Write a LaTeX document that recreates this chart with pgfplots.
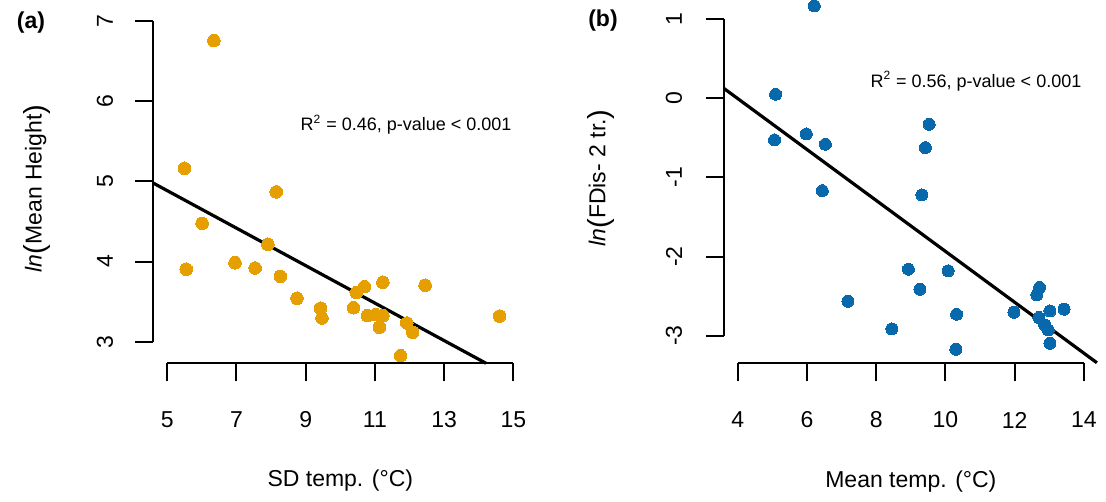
\documentclass[border=0pt]{standalone}
\usepackage{pgfplots}
\pgfplotsset{compat=1.18}
\usepackage{fontspec}
\setmainfont{Liberation Sans}
\definecolor{orng}{HTML}{E69F00}
\definecolor{blu}{HTML}{0868AC}
\newcommand{\tfs}{\fontsize{11.5}{12}\selectfont}
\newcommand{\bigp}[1]{\raisebox{-1.6pt}{\fontsize{14.5}{15}\selectfont #1}}

\pgfplotstableread{
x y
6.35 6.76
5.50 5.165
8.15 4.87
6.01 4.478
5.55 3.904
6.96 3.986
7.54 3.92
7.91 4.216
8.27 3.816
8.75 3.542
9.43 3.417
9.47 3.296
10.38 3.424
10.46 3.612
10.70 3.687
11.23 3.742
12.45 3.704
10.78 3.325
11.02 3.337
11.23 3.325
11.13 3.18
11.92 3.233
12.09 3.117
11.74 2.825
14.60 3.32
}\dataA

\pgfplotstableread{
x y
6.21 1.164
5.09 0.049
5.06 -0.528
5.98 -0.452
6.53 -0.582
6.44 -1.168
9.53 -0.330
9.42 -0.625
9.32 -1.222
7.18 -2.565
8.45 -2.914
8.93 -2.16
9.26 -2.413
10.08 -2.18
10.32 -2.729
10.30 -3.171
11.98 -2.703
12.72 -2.39
12.64 -2.485
13.02 -2.687
13.43 -2.665
12.70 -2.77
12.87 -2.864
12.97 -2.927
13.02 -3.095
}\dataB

\pgfplotsset{
  rstyle/.style={
    anchor=south west, scale only axis, clip=false,
    axis lines*=left, axis line style={draw=none},
    tick align=outside, major tick length=9pt,
    tick style={black, line width=1pt},
    minor tick num=0,
    xticklabel style={anchor=center, font=\tfs},
    yticklabel style={rotate=90, anchor=center, font=\tfs},
    xticklabel shift=19.35pt,
  },
}

\begin{document}
\begin{tikzpicture}
\useasboundingbox (0pt,0pt) rectangle (553pt,-251pt);

% ---------- panel (a)
\begin{axis}[rstyle,
  at={(76.65pt,-181.65pt)}, width=187pt, height=175pt,
  xmin=4.6, xmax=15.4, ymin=2.73, ymax=7.1,
  xtick={5,7,9,11,13,15}, xticklabels={5,7,9,11,13,15},
  ytick={3,4,5,6,7}, yticklabels={3,4,5,6,7},
  yticklabel shift=15.15pt,
]
\addplot[only marks, mark=*, mark size=3.15pt, mark options={draw=orng, fill=orng, line width=0pt}] table[x=x,y=y] {\dataA};
\addplot[black, line width=1.6pt] coordinates {(4.6,4.98) (14.21,2.73)};
\draw[black, line width=1pt] (axis cs:5,2.73) -- (axis cs:15,2.73);
\draw[black, line width=1pt] (axis cs:4.6,3) -- (axis cs:4.6,7);
\node[font=\tfs] at (axis cs:10,1.261) {SD temp. (°C)};
\node[font=\tfs, rotate=90] at (axis cs:1.25,4.915) {\textit{ln}\bigp{(}Mean Height\bigp{)}};
\node[font=\fontsize{9}{10}\selectfont, anchor=base] at (axis cs:11.90,5.634) {R\textsuperscript{2} = 0.46, p-value < 0.001};
\end{axis}

% ---------- panel (b)
\begin{axis}[rstyle,
  at={(362pt,-181.65pt)}, width=186.85pt, height=185.4pt,
  xmin=3.6, xmax=14.4, ymin=-3.348, ymax=1.334,
  xtick={4,6,8,10,12,14}, xticklabels={4,6,8,10,12,14},
  ytick={-3,-2,-1,0,1}, yticklabels={-3,-2,-1,0,1},
  yticklabel shift=16pt,
]
\addplot[only marks, mark=*, mark size=3pt, mark options={draw=blu, fill=blu, line width=0pt}] table[x=x,y=y] {\dataB};
\addplot[black, line width=1.6pt] coordinates {(3.6,0.122) (14.376,-3.341)};
\draw[black, line width=1pt] (axis cs:4,-3.348) -- (axis cs:14,-3.348);
\draw[black, line width=1pt] (axis cs:3.6,-3) -- (axis cs:3.6,1);
\node[font=\tfs] at (axis cs:9,-4.835) {Mean temp. (°C)};
\node[font=\tfs, rotate=90] at (axis cs:0.05,-1.007) {\textit{ln}\bigp{(}FDis- 2 tr.\bigp{)}};
\node[font=\fontsize{9}{10}\selectfont, anchor=base] at (axis cs:10.88,0.138) {R\textsuperscript{2} = 0.56, p-value < 0.001};
\end{axis}

\node[font=\bfseries\fontsize{11.5}{12}\selectfont] at (15.5pt,-11.25pt) {(a)};
\node[font=\bfseries\fontsize{11.5}{12}\selectfont] at (301.5pt,-10.5pt) {(b)};
\end{tikzpicture}
\end{document}
